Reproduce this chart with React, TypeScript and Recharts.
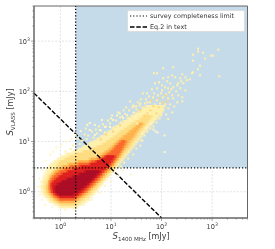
import React from "react";
import {
  ComposedChart,
  Scatter,
  XAxis,
  YAxis,
  CartesianGrid,
  ReferenceArea,
  ReferenceLine,
} from "recharts";

// density rows: [log10 S_VLASS, log10 S_1400 from, log10 S_1400 to]
const PALE_ROWS = [
  [-0.3, -0.02, 0.33], [-0.25, -0.1, 0.42], [-0.2, -0.2, 0.5], [-0.15, -0.24, 0.57], [-0.1, -0.3, 0.6],
  [-0.05, -0.33, 0.66], [0, -0.36, 0.7], [0.05, -0.36, 0.74], [0.1, -0.38, 0.77], [0.15, -0.35, 0.82],
  [0.2, -0.36, 0.85], [0.25, -0.33, 0.9], [0.3, -0.32, 0.95], [0.35, -0.3, 0.98], [0.4, -0.27, 1.04],
  [0.45, -0.26, 1.08], [0.5, -0.22, 1.12], [0.55, -0.18, 1.16], [0.6, -0.12, 1.2], [0.65, -0.05, 1.24],
  [0.7, 0.02, 1.28], [0.75, 0.12, 1.32], [0.8, 0.25, 1.36], [0.85, 0.36, 1.4], [0.9, 0.46, 1.44],
  [0.95, 0.56, 1.48], [1, 0.64, 1.52], [1.05, 0.72, 1.56], [1.1, 0.8, 1.6], [1.15, 0.88, 1.64],
  [1.2, 0.95, 1.68], [1.25, 1.03, 1.72], [1.3, 1.1, 1.76], [1.35, 1.18, 1.8], [1.4, 1.25, 1.85],
  [1.45, 1.33, 1.9], [1.5, 1.4, 1.93], [1.55, 1.48, 1.96], [1.6, 1.55, 2], [1.65, 1.63, 2.03],
  [1.7, 1.7, 2.05],
];
const LIGHT_ROWS = [
  [-0.25, 0, 0.3], [-0.2, -0.1, 0.38], [-0.15, -0.16, 0.45], [-0.1, -0.22, 0.52], [-0.05, -0.26, 0.58],
  [0, -0.28, 0.62], [0.05, -0.29, 0.68], [0.1, -0.29, 0.72], [0.15, -0.28, 0.76], [0.2, -0.27, 0.8],
  [0.25, -0.24, 0.85], [0.3, -0.22, 0.9], [0.35, -0.19, 0.94], [0.4, -0.14, 0.99], [0.45, -0.1, 1.03],
  [0.5, -0.06, 1.07], [0.55, -0.03, 1.1], [0.6, 0, 1.14], [0.65, 0.1, 1.18], [0.7, 0.2, 1.22],
  [0.75, 0.32, 1.25], [0.8, 0.46, 1.29], [0.85, 0.6, 1.34], [0.9, 0.74, 1.38], [0.95, 0.85, 1.41],
  [1, 0.93, 1.44], [1.05, 1, 1.48], [1.1, 1.07, 1.52], [1.15, 1.14, 1.55], [1.2, 1.2, 1.58],
  [1.25, 1.28, 1.62], [1.3, 1.35, 1.65], [1.35, 1.42, 1.69], [1.4, 1.5, 1.72], [1.45, 1.58, 1.76],
  [1.5, 1.65, 1.8],
];
const ORANGE_ROWS = [
  [-0.2, -0.02, 0.28], [-0.15, -0.1, 0.36], [-0.1, -0.16, 0.44], [-0.05, -0.2, 0.5], [0, -0.23, 0.55],
  [0.05, -0.24, 0.6], [0.1, -0.24, 0.65], [0.15, -0.22, 0.7], [0.2, -0.2, 0.75], [0.25, -0.19, 0.8],
  [0.3, -0.18, 0.84], [0.35, -0.14, 0.88], [0.4, -0.1, 0.93], [0.45, -0.03, 0.98], [0.5, 0.05, 1.02],
  [0.55, 0.17, 1.05], [0.6, 0.35, 1.08], [0.65, 0.6, 1.12], [0.7, 0.75, 1.16], [0.75, 0.83, 1.19],
  [0.8, 0.9, 1.22], [0.85, 0.97, 1.26], [0.9, 1.03, 1.3], [0.95, 1.08, 1.33], [1, 1.13, 1.36],
  [1.05, 1.19, 1.4], [1.1, 1.25, 1.44], [1.15, 1.32, 1.47], [1.2, 1.38, 1.5], [1.25, 1.44, 1.54],
  [1.3, 1.5, 1.58], [1.35, 1.55, 1.62],
];
const DEEP_ORANGE_ROWS = [
  [-0.15, -0.02, 0.28], [-0.1, -0.1, 0.36], [-0.05, -0.15, 0.43], [0, -0.19, 0.5], [0.05, -0.2, 0.55],
  [0.1, -0.2, 0.6], [0.15, -0.2, 0.65], [0.2, -0.2, 0.7], [0.25, -0.17, 0.75], [0.3, -0.13, 0.79],
  [0.35, -0.08, 0.83], [0.4, -0.01, 0.88], [0.45, 0.08, 0.93], [0.5, 0.2, 0.98], [0.55, 0.36, 1.02],
  [0.6, 0.6, 1.05], [0.65, 0.76, 1.09], [0.7, 0.85, 1.12], [0.75, 0.93, 1.15], [0.8, 1, 1.18],
  [0.85, 1.06, 1.21], [0.9, 1.1, 1.23], [0.95, 1.15, 1.26], [1, 1.2, 1.28],
];
const RED_ROWS = [
  [-0.1, -0.02, 0.28], [-0.05, -0.1, 0.36], [0, -0.15, 0.43], [0.05, -0.16, 0.48], [0.1, -0.17, 0.53],
  [0.15, -0.17, 0.58], [0.2, -0.13, 0.63], [0.25, -0.08, 0.68], [0.3, -0.02, 0.73], [0.35, 0.05, 0.78],
  [0.4, 0.15, 0.82], [0.45, 0.27, 0.87], [0.5, 0.4, 0.92], [0.55, 0.6, 0.96], [0.6, 0.72, 1],
  [0.65, 0.82, 1.03], [0.7, 0.9, 1.06],
];
const DARK_ROWS = [
  [-0.05, -0.03, 0.25], [0, -0.09, 0.34], [0.05, -0.1, 0.4], [0.1, -0.09, 0.46], [0.15, -0.04, 0.52],
  [0.2, 0.04, 0.57], [0.25, 0.14, 0.62], [0.3, 0.26, 0.67], [0.35, 0.38, 0.71], [0.4, 0.5, 0.76],
];

// single sources outside the filled bands: [log10 S_1400, log10 S_VLASS]
const ARM_POINTS = [
  [2.72, 2.85], [2.72, 2.79], [2.82, 2.77], [2.62, 2.73], [2.98, 2.71], [3.02, 2.71], [3.12, 2.83], [3.14, 2.3],
  [2.86, 2.65], [2.62, 2.61], [2.76, 2.51], [2.72, 2.44], [2.62, 2.38], [2.6, 2.36], [2.76, 2.32], [2.56, 2.24],
  [2.41, 2.34], [2.23, 2.48], [2.03, 2.46], [1.85, 2.36], [1.91, 2.36], [2.21, 2.32], [2.13, 2.28], [2.27, 2.28],
  [2.37, 2.26], [2.47, 2.28], [2.5, 2.22], [1.95, 2.18], [1.87, 2.16], [2.03, 2.26], [2.11, 2.2], [2.17, 2.16],
  [2.33, 2.16], [2.43, 2.16], [2.07, 2.08], [2.13, 2.06], [2.23, 2.08], [2.37, 2.06], [2.47, 2.02], [1.91, 2.06],
  [2.01, 2.02], [1.63, 1.96], [1.71, 1.96], [1.83, 1.88], [1.93, 1.92], [2.03, 1.88], [2.21, 1.92], [2.33, 1.92],
  [2.41, 1.88], [2.41, 1.8], [2.31, 1.78], [2.23, 1.86], [2.13, 1.86], [1.91, 1.82], [1.77, 1.78], [1.67, 1.76],
  [1.57, 1.72], [1.5, 1.7], [1.38, 1.8], [1.44, 1.72], [2.13, 1.66], [2.03, 1.62], [2.21, 1.58], [2.13, 1.45],
  [1.81, 2.04], [1.99, 1.96], [2.09, 1.94], [2.15, 1.98], [2.29, 2], [1.75, 1.9], [1.85, 1.96], [1.97, 1.76],
  [2.07, 1.74], [2.17, 1.74], [2.25, 1.7], [1.87, 1.74], [1.79, 1.7], [1.69, 1.84], [1.59, 1.84], [1.53, 1.78],
  [2.09, 1.54], [1.99, 1.52], [2.01, 2.12], [2.19, 2.04], [2.31, 2.12], [2.39, 2.2],
  [0.1, 0.8], [0.2, 0.85], [0.3, 0.78], [0.25, 0.92], [0.38, 0.95], [0.45, 0.88], [0.42, 1.02], [0.52, 1.05],
  [0.6, 0.98], [0.55, 1.12], [0.65, 1.08], [0.72, 1.16], [0.62, 1.2], [0.8, 1.22], [0.88, 1.18], [0.9, 1.3],
  [0.76, 1.3], [0.98, 1.36], [1.05, 1.28], [1.1, 1.42], [1, 1.46], [1.2, 1.38], [1.18, 1.48], [1.28, 1.55],
  [1.36, 1.62], [1.25, 1.62], [1.42, 1.52], [1.5, 1.64], [1.46, 1.7], [1.58, 1.76], [1.62, 1.68],
  [1.6, 1.02], [1.66, 1.12], [1.72, 1.2], [1.78, 1.26], [1.84, 1.3], [1.9, 1.38], [1.96, 1.46], [2, 1.56],
  [1.58, 0.92], [1.5, 0.86], [1.44, 0.74], [1.34, 0.66], [1.26, 0.58], [1.2, 0.5],
  [0.34, 1.06], [0.48, 1.14], [0.5, 1.26], [0.7, 1.24], [0.84, 1.34], [0.94, 1.42], [1.02, 1.52], [1.14, 1.58],
  [1.22, 1.5], [1.34, 1.46], [1.56, 1.5], [1.66, 1.6], [1.72, 1.78], [1.42, 1.68], [1.3, 1.68], [1.62, 1.02],
];
const FRINGE_POINTS = [
  [0.53, 1.33], [0.58, 1.37], [0.68, 1.33], [0.82, 1.43], [1.12, 1.52], [1.17, 1.56], [0.88, 1.29], [1.04, 1.43],
  [0.68, 1.13], [0.58, 1.23], [0.78, 1.23], [0.98, 1.29], [1.24, 1.47], [1.32, 1.52], [1.45, 1.58], [1.38, 1.43],
  [1.52, 1.36], [1.48, 1.49], [0.4, 1.21], [0.3, 1.13], [0.22, 1.05], [0.1, 1], [0.02, 0.94], [-0.08, 0.88],
  [-0.14, 0.8], [-0.2, 0.74], [-0.28, 0.62], [-0.36, 0.44], [-0.42, 0.26], [-0.44, 0.1], [-0.4, -0.06], [-0.36, -0.16],
  [-0.3, -0.26], [-0.16, -0.3], [0.1, -0.36], [0.26, -0.34], [0.46, -0.26], [0.62, -0.16], [0.78, -0.02], [0.88, 0.12],
  [1, 0.22], [1.12, 0.32], [1.24, 0.42], [1.4, 0.34], [1.62, 1.16], [1.7, 1.28], [1.8, 1.36], [1.88, 1.2],
  [1.92, 1.18], [2.06, 1.12], [2.06, 0.79], [1.84, 1.24],
];
const WARM_POINTS = [
  [1.78, 1.62], [1.84, 1.7], [1.94, 1.68], [1.72, 1.56], [1.66, 1.52], [1.9, 1.56], [2.02, 1.78], [2.12, 1.8],
  [1.96, 1.86], [2.08, 1.92], [1.8, 1.82], [1.58, 1.62], [1.18, 1.32], [1.04, 1.2], [0.9, 1.14], [0.8, 1.04],
];

const LIMIT_X = 2;
const LIMIT_Y = 3;
const EQ2_LINE = [
  { x: 0.3, y: 92 },
  { x: 100, y: 0.3 },
];

const MAJOR_TICKS = [1, 10, 100, 1000];
const MINOR_TICKS = [
  0.3, 0.4, 0.5, 0.6, 0.7, 0.8, 0.9, 2, 3, 4, 5, 6, 7, 8, 9, 20, 30, 40, 50, 60, 70, 80, 90, 200, 300, 400, 500, 600,
  700, 800, 900, 2000, 3000, 4000, 5000,
];
const ALL_TICKS = [...MAJOR_TICKS, ...MINOR_TICKS].sort((a, b) => a - b);
const MIN_VAL = 0.3;
const MAX_VAL = 5000;

const BANDS: [number[][], string][] = [
  [PALE_ROWS, "#fff0ac"],
  [LIGHT_ROWS, "#fedc82"],
  [ORANGE_ROWS, "#feb24c"],
  [DEEP_ORANGE_ROWS, "#f9692c"],
  [RED_ROWS, "#dd1f1f"],
  [DARK_ROWS, "#ab0d26"],
];

const TEXT = "#3a3a3a";
const SPINE = "#666";
const FONT = "'DejaVu Sans', sans-serif";

const toData = (pts: number[][]) => pts.map(([x, y]) => ({ x: 10 ** x, y: 10 ** y }));

const cell = (fill: string) => (p: any) => <rect x={p.cx - 1} y={p.cy - 1} width={2} height={2} fill={fill} />;

function powerLabel(value: number) {
  const e = Math.round(Math.log10(value));
  return (
    <>
      <tspan>10</tspan>
      <tspan dy={-3} fontSize={4.6}>
        {e}
      </tspan>
    </>
  );
}

function XTick({ x, y, payload }: any) {
  const major = MAJOR_TICKS.includes(payload.value);
  return (
    <g>
      <line x1={x} x2={x} y1={y} y2={y + (major ? 3 : 1.6)} stroke={SPINE} strokeWidth={0.6} />
      {major && (
        <text x={x} y={y + 11} textAnchor="middle" fontSize={6.6} fill={TEXT} fontFamily={FONT}>
          {powerLabel(payload.value)}
        </text>
      )}
    </g>
  );
}

function YTick({ x, y, payload }: any) {
  const major = MAJOR_TICKS.includes(payload.value);
  return (
    <g>
      <line x1={x} x2={x - (major ? 3 : 1.6)} y1={y} y2={y} stroke={SPINE} strokeWidth={0.6} />
      {major && (
        <text x={x - 4} y={y + 2.5} textAnchor="end" fontSize={6.6} fill={TEXT} fontFamily={FONT}>
          {powerLabel(payload.value)}
        </text>
      )}
    </g>
  );
}

function XTitle() {
  return (
    <text x={141} y={239} textAnchor="middle" fontSize={8} fill={TEXT} fontFamily={FONT}>
      <tspan fontStyle="italic" fontSize={8.5}>S</tspan>
      <tspan dy={2} fontSize={5.6}>1400 MHz</tspan>
      <tspan dy={-2}> [mJy]</tspan>
    </text>
  );
}

function YTitle() {
  return (
    <text x={13} y={112} transform="rotate(-90 13 112)" textAnchor="middle" fontSize={8} fill={TEXT} fontFamily={FONT}>
      <tspan fontStyle="italic" fontSize={8.5}>S</tspan>
      <tspan dy={2} fontSize={5.6}>VLASS</tspan>
      <tspan dy={-2}> [mJy]</tspan>
    </text>
  );
}

function LegendBox() {
  const row = { display: "flex", alignItems: "center", height: 10.5 } as const;
  return (
    <div
      style={{
        position: "absolute",
        left: 127,
        top: 9.5,
        background: "#fff",
        border: "0.6px solid #ddd",
        borderRadius: 2,
        width: 118,
        height: 22.5,
        boxSizing: "border-box",
        padding: "0.5px 0 0 2px",
        fontFamily: FONT,
        fontSize: 6.4,
        color: "#333",
        whiteSpace: "nowrap",
      }}
    >
      <div style={row}>
        <svg width={17} height={6} style={{ marginRight: 3 }}>
          <line x1={0} x2={17} y1={3} y2={3} stroke="#000" strokeWidth={1.2} strokeDasharray="1.2 2" />
        </svg>
        survey completeness limit
      </div>
      <div style={row}>
        <svg width={17} height={6} style={{ marginRight: 3 }}>
          <line x1={0} x2={17} y1={3} y2={3} stroke="#000" strokeWidth={1.4} strokeDasharray="4.5 1.8" />
        </svg>
        Eq.2 in text
      </div>
    </div>
  );
}

export default function App() {
  return (
    <div style={{ position: "absolute", left: 0, top: 0, width: 275, height: 249, filter: "blur(0.3px)" }}>
      <ComposedChart width={275} height={249} margin={{ top: 6, right: 27.5, bottom: 0, left: 0 }}>
        <XAxis
          type="number"
          dataKey="x"
          scale="log"
          domain={[MIN_VAL, MAX_VAL]}
          ticks={ALL_TICKS}
          interval={0}
          height={31}
          allowDataOverflow
          tickLine={false}
          tickSize={0}
          tickMargin={0}
          tick={<XTick />}
          stroke={SPINE}
          label={<XTitle />}
        />
        <YAxis
          type="number"
          dataKey="y"
          scale="log"
          domain={[MIN_VAL, MAX_VAL]}
          ticks={ALL_TICKS}
          interval={0}
          width={34}
          allowDataOverflow
          tickLine={false}
          tickSize={0}
          tickMargin={0}
          tick={<YTick />}
          stroke={SPINE}
          label={<YTitle />}
        />
        <ReferenceArea x1={LIMIT_X} x2={MAX_VAL} y1={LIMIT_Y} y2={MAX_VAL} fill="#c6dbe9" fillOpacity={1} stroke="none" />
        <CartesianGrid
          stroke="#aaa"
          strokeOpacity={0.55}
          strokeWidth={0.6}
          strokeDasharray="2 1.5"
          verticalValues={MAJOR_TICKS}
          horizontalValues={MAJOR_TICKS}
        />
        {BANDS.flatMap(([rows, fill], b) => [
          // soft edge so neighbouring bands blend a little, like the finer bins of the original
          ...rows.map(([y, x0, x1]) => (
            <ReferenceArea
              key={`h${b}-${y}`}
              x1={10 ** (x0 - 0.04)}
              x2={10 ** (x1 + 0.04)}
              y1={10 ** (y - 0.027)}
              y2={10 ** (y + 0.027)}
              fill={fill}
              fillOpacity={0.5}
              stroke="none"
            />
          )),
          ...rows.map(([y, x0, x1]) => (
            <ReferenceArea
              key={`${b}-${y}`}
              x1={10 ** x0}
              x2={10 ** x1}
              y1={10 ** (y - 0.027)}
              y2={10 ** (y + 0.027)}
              fill={fill}
              fillOpacity={1}
              stroke="none"
            />
          )),
        ])}
        <Scatter data={toData(ARM_POINTS)} shape={cell("#fff0ac")} isAnimationActive={false} />
        <Scatter data={toData(FRINGE_POINTS)} shape={cell("#fff6c4")} isAnimationActive={false} />
        <Scatter data={toData(WARM_POINTS)} shape={cell("#fed576")} isAnimationActive={false} />
        <ReferenceLine x={LIMIT_X} stroke="#000" strokeWidth={1.3} strokeDasharray="1.2 2" />
        <ReferenceLine y={LIMIT_Y} stroke="#000" strokeWidth={1.3} strokeDasharray="1.2 2" />
        <ReferenceLine segment={EQ2_LINE} stroke="#000" strokeWidth={1.4} strokeDasharray="4.5 1.8" ifOverflow="hidden" />
        <ReferenceArea x1={MIN_VAL} x2={MAX_VAL} y1={MIN_VAL} y2={MAX_VAL} fill="none" stroke={SPINE} strokeWidth={1} />
      </ComposedChart>
      <LegendBox />
    </div>
  );
}
